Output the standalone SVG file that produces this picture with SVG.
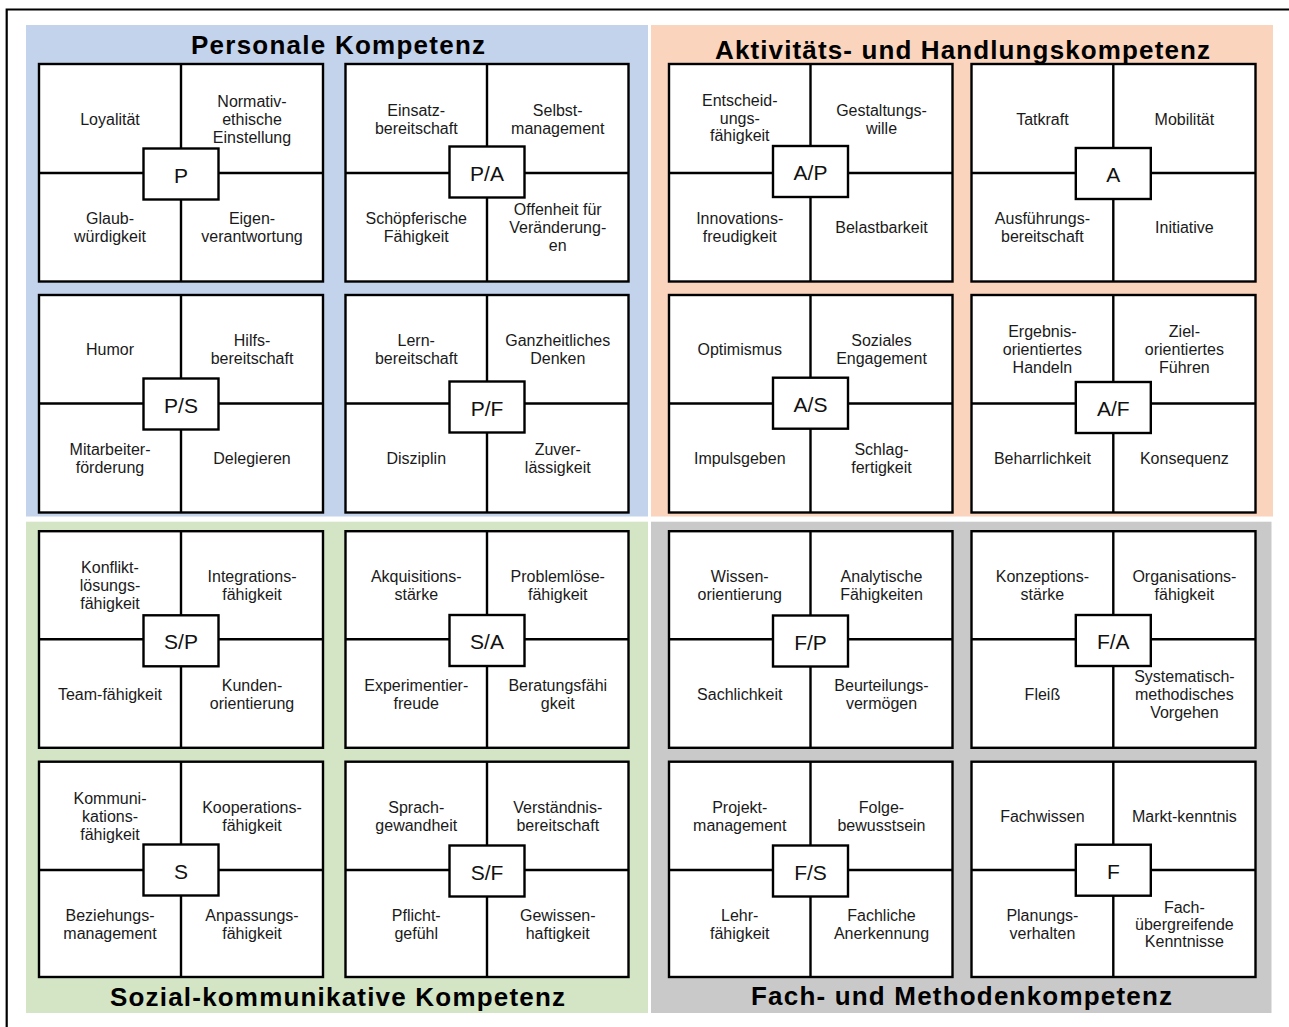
<svg xmlns="http://www.w3.org/2000/svg" width="1289" height="1027" viewBox="0 0 1289 1027">
<style>
.box{fill:#fff;stroke:#000;stroke-width:2.4}
.div{fill:none;stroke:#000;stroke-width:2.4}
.lab{fill:#fff;stroke:#000;stroke-width:2.4}
.t{font-family:"Liberation Sans",Arial,sans-serif;font-size:16px;fill:#1a1a1a;text-anchor:middle}
.c{font-size:21px;fill:#111}
.title{font-family:"Liberation Sans",Arial,sans-serif;font-weight:bold;font-size:26px;fill:#000}
</style>
<rect width="1289" height="1027" fill="#fff"/>
<path d="M6.7 1030V9.5H1292" fill="none" stroke="#000" stroke-width="2.2"/>
<g id="panels">
<rect id="panel-personal" x="26" y="25" width="622" height="491.5" fill="#C2D3EB"/>
<rect id="panel-aktiv" x="651" y="25" width="622" height="491.5" fill="#FAD4BC"/>
<rect id="panel-sozial" x="26" y="521.7" width="622" height="491.3" fill="#D3E5C5"/>
<rect id="panel-fach" x="651" y="521.7" width="620.5" height="491.3" fill="#C9C9C9"/>
</g>
<g id="titles">
<text class="title" x="191" y="53.5" textLength="294" lengthAdjust="spacing">Personale Kompetenz</text>
<text class="title" x="715" y="58.5" textLength="495" lengthAdjust="spacing">Aktivitäts- und Handlungskompetenz</text>
<text class="title" x="110" y="1005.5" textLength="455" lengthAdjust="spacing">Sozial-kommunikative Kompetenz</text>
<text class="title" x="751" y="1005.3" textLength="421" lengthAdjust="spacing">Fach- und Methodenkompetenz</text>
</g>

<g id="box-P">
<rect class="box" x="39" y="64" width="284" height="217.5"/>
<path class="div" d="M181 64V281.5M39 173H323"/>
<rect class="lab" x="143.5" y="148.5" width="75" height="51"/>
<text class="t c" x="181" y="182.5">P</text>
<text class="t" x="110" y="124.5">Loyalität</text>
<text class="t" x="252" y="106.5">Normativ-<tspan x="252" dy="18">ethische</tspan><tspan x="252" dy="18">Einstellung</tspan></text>
<text class="t" x="110" y="224.25">Glaub-<tspan x="110" dy="18">würdigkeit</tspan></text>
<text class="t" x="252" y="224.25">Eigen-<tspan x="252" dy="18">verantwortung</tspan></text>
</g>

<g id="box-PA">
<rect class="box" x="345.5" y="64" width="283" height="217.5"/>
<path class="div" d="M487 64V281.5M345.5 173H628.5"/>
<rect class="lab" x="449.5" y="146.5" width="75" height="51"/>
<text class="t c" x="487" y="180.5">P/A</text>
<text class="t" x="416.25" y="115.5">Einsatz-<tspan x="416.25" dy="18">bereitschaft</tspan></text>
<text class="t" x="557.75" y="115.5">Selbst-<tspan x="557.75" dy="18">management</tspan></text>
<text class="t" x="416.25" y="224.25">Schöpferische<tspan x="416.25" dy="18">Fähigkeit</tspan></text>
<text class="t" x="557.75" y="215.25">Offenheit für<tspan x="557.75" dy="18">Veränderung-</tspan><tspan x="557.75" dy="18">en</tspan></text>
</g>

<g id="box-PS">
<rect class="box" x="39" y="295" width="284" height="217.5"/>
<path class="div" d="M181 295V512.5M39 403.5H323"/>
<rect class="lab" x="143.5" y="378.5" width="75" height="51"/>
<text class="t c" x="181" y="412.5">P/S</text>
<text class="t" x="110" y="355.25">Humor</text>
<text class="t" x="252" y="346.25">Hilfs-<tspan x="252" dy="18">bereitschaft</tspan></text>
<text class="t" x="110" y="455">Mitarbeiter-<tspan x="110" dy="18">förderung</tspan></text>
<text class="t" x="252" y="464">Delegieren</text>
</g>

<g id="box-PF">
<rect class="box" x="345.5" y="295" width="283" height="217.5"/>
<path class="div" d="M487 295V512.5M345.5 403.5H628.5"/>
<rect class="lab" x="449.5" y="381.5" width="75" height="51"/>
<text class="t c" x="487" y="415.5">P/F</text>
<text class="t" x="416.25" y="346.25">Lern-<tspan x="416.25" dy="18">bereitschaft</tspan></text>
<text class="t" x="557.75" y="346.25">Ganzheitliches<tspan x="557.75" dy="18">Denken</tspan></text>
<text class="t" x="416.25" y="464">Disziplin</text>
<text class="t" x="557.75" y="455">Zuver-<tspan x="557.75" dy="18">lässigkeit</tspan></text>
</g>

<g id="box-AP">
<rect class="box" x="669" y="64" width="283.5" height="217.5"/>
<path class="div" d="M810.5 64V281.5M669 173H952.5"/>
<rect class="lab" x="773" y="146" width="75" height="51"/>
<text class="t c" x="810.5" y="180">A/P</text>
<text class="t" x="739.75" y="106">Entscheid-<tspan x="739.75" dy="17.5">ungs-</tspan><tspan x="739.75" dy="17.5">fähigkeit</tspan></text>
<text class="t" x="881.5" y="115.5">Gestaltungs-<tspan x="881.5" dy="18">wille</tspan></text>
<text class="t" x="739.75" y="224.25">Innovations-<tspan x="739.75" dy="18">freudigkeit</tspan></text>
<text class="t" x="881.5" y="233.25">Belastbarkeit</text>
</g>

<g id="box-A">
<rect class="box" x="971.5" y="64" width="284" height="217.5"/>
<path class="div" d="M1113.3 64V281.5M971.5 173H1255.5"/>
<rect class="lab" x="1075.8" y="148" width="75" height="51"/>
<text class="t c" x="1113.3" y="182">A</text>
<text class="t" x="1042.4" y="124.5">Tatkraft</text>
<text class="t" x="1184.4" y="124.5">Mobilität</text>
<text class="t" x="1042.4" y="224.25">Ausführungs-<tspan x="1042.4" dy="18">bereitschaft</tspan></text>
<text class="t" x="1184.4" y="233.25">Initiative</text>
</g>

<g id="box-AS">
<rect class="box" x="669" y="295" width="283.5" height="217.5"/>
<path class="div" d="M810.5 295V512.5M669 403.5H952.5"/>
<rect class="lab" x="773" y="377.7" width="75" height="51"/>
<text class="t c" x="810.5" y="411.7">A/S</text>
<text class="t" x="739.75" y="355.25">Optimismus</text>
<text class="t" x="881.5" y="346.25">Soziales<tspan x="881.5" dy="18">Engagement</tspan></text>
<text class="t" x="739.75" y="464">Impulsgeben</text>
<text class="t" x="881.5" y="455">Schlag-<tspan x="881.5" dy="18">fertigkeit</tspan></text>
</g>

<g id="box-AF">
<rect class="box" x="971.5" y="295" width="284" height="217.5"/>
<path class="div" d="M1113.3 295V512.5M971.5 403.5H1255.5"/>
<rect class="lab" x="1075.8" y="382" width="75" height="51"/>
<text class="t c" x="1113.3" y="416">A/F</text>
<text class="t" x="1042.4" y="337.25">Ergebnis-<tspan x="1042.4" dy="18">orientiertes</tspan><tspan x="1042.4" dy="18">Handeln</tspan></text>
<text class="t" x="1184.4" y="337.25">Ziel-<tspan x="1184.4" dy="18">orientiertes</tspan><tspan x="1184.4" dy="18">Führen</tspan></text>
<text class="t" x="1042.4" y="464">Beharrlichkeit</text>
<text class="t" x="1184.4" y="464">Konsequenz</text>
</g>

<g id="box-SP">
<rect class="box" x="39" y="531.2" width="284" height="216.6"/>
<path class="div" d="M181 531.2V747.8M39 639.3H323"/>
<rect class="lab" x="143.5" y="615.3" width="75" height="51"/>
<text class="t c" x="181" y="649.3">S/P</text>
<text class="t" x="110" y="573.25">Konflikt-<tspan x="110" dy="18">lösungs-</tspan><tspan x="110" dy="18">fähigkeit</tspan></text>
<text class="t" x="252" y="582.25">Integrations-<tspan x="252" dy="18">fähigkeit</tspan></text>
<text class="t" x="110" y="699.55">Team-fähigkeit</text>
<text class="t" x="252" y="690.55">Kunden-<tspan x="252" dy="18">orientierung</tspan></text>
</g>

<g id="box-SA">
<rect class="box" x="345.5" y="531.2" width="283" height="216.6"/>
<path class="div" d="M487 531.2V747.8M345.5 639.3H628.5"/>
<rect class="lab" x="449.5" y="615" width="75" height="51"/>
<text class="t c" x="487" y="649">S/A</text>
<text class="t" x="416.25" y="582.25">Akquisitions-<tspan x="416.25" dy="18">stärke</tspan></text>
<text class="t" x="557.75" y="582.25">Problemlöse-<tspan x="557.75" dy="18">fähigkeit</tspan></text>
<text class="t" x="416.25" y="690.55">Experimentier-<tspan x="416.25" dy="18">freude</tspan></text>
<text class="t" x="557.75" y="690.55">Beratungsfähi<tspan x="557.75" dy="18">gkeit</tspan></text>
</g>

<g id="box-S">
<rect class="box" x="39" y="761.7" width="284" height="215.3"/>
<path class="div" d="M181 761.7V977M39 870H323"/>
<rect class="lab" x="143.5" y="844.5" width="75" height="51"/>
<text class="t c" x="181" y="878.5">S</text>
<text class="t" x="110" y="803.85">Kommuni-<tspan x="110" dy="18">kations-</tspan><tspan x="110" dy="18">fähigkeit</tspan></text>
<text class="t" x="252" y="812.85">Kooperations-<tspan x="252" dy="18">fähigkeit</tspan></text>
<text class="t" x="110" y="920.5">Beziehungs-<tspan x="110" dy="18">management</tspan></text>
<text class="t" x="252" y="920.5">Anpassungs-<tspan x="252" dy="18">fähigkeit</tspan></text>
</g>

<g id="box-SF">
<rect class="box" x="345.5" y="761.7" width="283" height="215.3"/>
<path class="div" d="M487 761.7V977M345.5 870H628.5"/>
<rect class="lab" x="449.5" y="845.5" width="75" height="51"/>
<text class="t c" x="487" y="879.5">S/F</text>
<text class="t" x="416.25" y="812.85">Sprach-<tspan x="416.25" dy="18">gewandheit</tspan></text>
<text class="t" x="557.75" y="812.85">Verständnis-<tspan x="557.75" dy="18">bereitschaft</tspan></text>
<text class="t" x="416.25" y="920.5">Pflicht-<tspan x="416.25" dy="18">gefühl</tspan></text>
<text class="t" x="557.75" y="920.5">Gewissen-<tspan x="557.75" dy="18">haftigkeit</tspan></text>
</g>

<g id="box-FP">
<rect class="box" x="669" y="531.2" width="283.5" height="216.6"/>
<path class="div" d="M810.5 531.2V747.8M669 639.3H952.5"/>
<rect class="lab" x="773" y="615.5" width="75" height="51"/>
<text class="t c" x="810.5" y="649.5">F/P</text>
<text class="t" x="739.75" y="582.25">Wissen-<tspan x="739.75" dy="18">orientierung</tspan></text>
<text class="t" x="881.5" y="582.25">Analytische<tspan x="881.5" dy="18">Fähigkeiten</tspan></text>
<text class="t" x="739.75" y="699.55">Sachlichkeit</text>
<text class="t" x="881.5" y="690.55">Beurteilungs-<tspan x="881.5" dy="18">vermögen</tspan></text>
</g>

<g id="box-FA">
<rect class="box" x="971.5" y="531.2" width="284" height="216.6"/>
<path class="div" d="M1113.3 531.2V747.8M971.5 639.3H1255.5"/>
<rect class="lab" x="1075.8" y="615" width="75" height="51"/>
<text class="t c" x="1113.3" y="649">F/A</text>
<text class="t" x="1042.4" y="582.25">Konzeptions-<tspan x="1042.4" dy="18">stärke</tspan></text>
<text class="t" x="1184.4" y="582.25">Organisations-<tspan x="1184.4" dy="18">fähigkeit</tspan></text>
<text class="t" x="1042.4" y="699.55">Fleiß</text>
<text class="t" x="1184.4" y="681.55">Systematisch-<tspan x="1184.4" dy="18">methodisches</tspan><tspan x="1184.4" dy="18">Vorgehen</tspan></text>
</g>

<g id="box-FS">
<rect class="box" x="669" y="761.7" width="283.5" height="215.3"/>
<path class="div" d="M810.5 761.7V977M669 870H952.5"/>
<rect class="lab" x="773" y="845.5" width="75" height="51"/>
<text class="t c" x="810.5" y="879.5">F/S</text>
<text class="t" x="739.75" y="812.85">Projekt-<tspan x="739.75" dy="18">management</tspan></text>
<text class="t" x="881.5" y="812.85">Folge-<tspan x="881.5" dy="18">bewusstsein</tspan></text>
<text class="t" x="739.75" y="920.5">Lehr-<tspan x="739.75" dy="18">fähigkeit</tspan></text>
<text class="t" x="881.5" y="920.5">Fachliche<tspan x="881.5" dy="18">Anerkennung</tspan></text>
</g>

<g id="box-F">
<rect class="box" x="971.5" y="761.7" width="284" height="215.3"/>
<path class="div" d="M1113.3 761.7V977M971.5 870H1255.5"/>
<rect class="lab" x="1075.8" y="844.7" width="75" height="51"/>
<text class="t c" x="1113.3" y="878.7">F</text>
<text class="t" x="1042.4" y="821.85">Fachwissen</text>
<text class="t" x="1184.4" y="821.85">Markt-kenntnis</text>
<text class="t" x="1042.4" y="920.5">Planungs-<tspan x="1042.4" dy="18">verhalten</tspan></text>
<text class="t" x="1184.4" y="912.5">Fach-<tspan x="1184.4" dy="17">übergreifende</tspan><tspan x="1184.4" dy="17">Kenntnisse</tspan></text>
</g>
</svg>
